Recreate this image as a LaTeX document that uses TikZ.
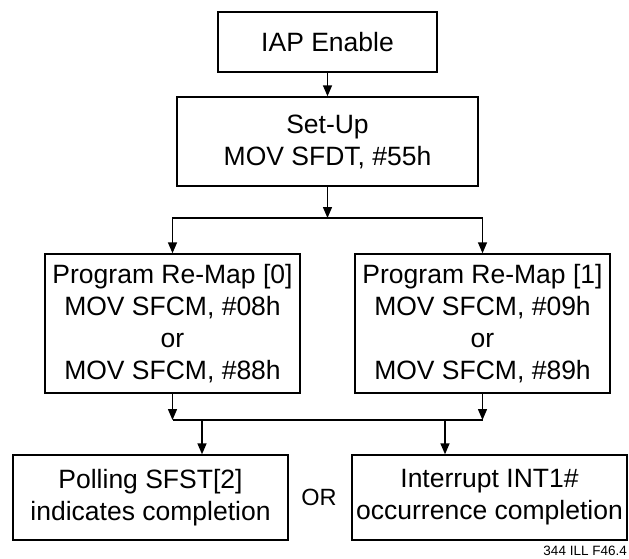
\documentclass[tikz,border=0pt]{standalone}
\usepackage{fontspec}
\setmainfont{Liberation Sans}
\usetikzlibrary{calc,arrows.meta}

\begin{document}
\begin{tikzpicture}[x=1pt,y=-1pt,
		box/.style={draw,line width=1.4pt,align=center,inner sep=0pt,font=\fontsize{26.5}{32}\selectfont},
		arr/.style={line width=1.4pt,-{Triangle[length=11pt,width=9pt]}},
		wire/.style={line width=1.4pt}]
				\useasboundingbox (0,0) rectangle (629,558);
				\coordinate (S) at (327.5,218);
				\coordinate (J0) at (172.5,420);
				\coordinate (J1) at (482.5,420);
				\coordinate (T0) at (202,420);
				\coordinate (T1) at (445,420);

				\node (iap) at (327.5,42)[box,minimum width=219pt,minimum height=60pt]{IAP Enable};
				\node (setup) at (327.5,141.5)[box,minimum width=301pt,minimum height=89pt]{Set-Up\\MOV SFDT, \#55h};
				\node (remap0) at (172.5,323.5)[box,minimum width=255pt,minimum height=139pt]{Program Re-Map [0]\\MOV SFCM, \#08h\\or\\MOV SFCM, \#88h};
				\node (remap1) at (482.5,323.5)[box,minimum width=255pt,minimum height=139pt]{Program Re-Map [1]\\MOV SFCM, \#09h\\or\\MOV SFCM, \#89h};
				\node (poll) at (150.5,497.5)[box,minimum width=275pt,minimum height=85pt]{Polling SFST[2]\\indicates completion};
				\node (intr) at (489.5,497.5)[box,minimum width=275pt,minimum height=85pt]{Interrupt INT1\#\\occurrence completion};
				\node (or) at (319,497)[font=\fontsize{23.5}{28}\selectfont]{OR};
				\node (tag) at (627,555.5)[anchor=base east,inner sep=0pt,font=\fontsize{13.5}{16}\selectfont]{344 ILL F46.4};

				\draw[arr] (iap.south)--(setup.north);
				\draw[arr] (setup.south)--(S);
				\draw[arr] (S)-|(remap0.north);
				\draw[arr] (S)-|(remap1.north);

				\draw[arr] (remap0.south)--(J0);
				\draw[arr] (remap1.south)--(J1);
				\draw[wire] (J0)--(J1);
				\draw[arr] (T0)--(T0 |- poll.north);
				\draw[arr] (T1)--(T1 |- intr.north);
			\end{tikzpicture}
\end{document}
